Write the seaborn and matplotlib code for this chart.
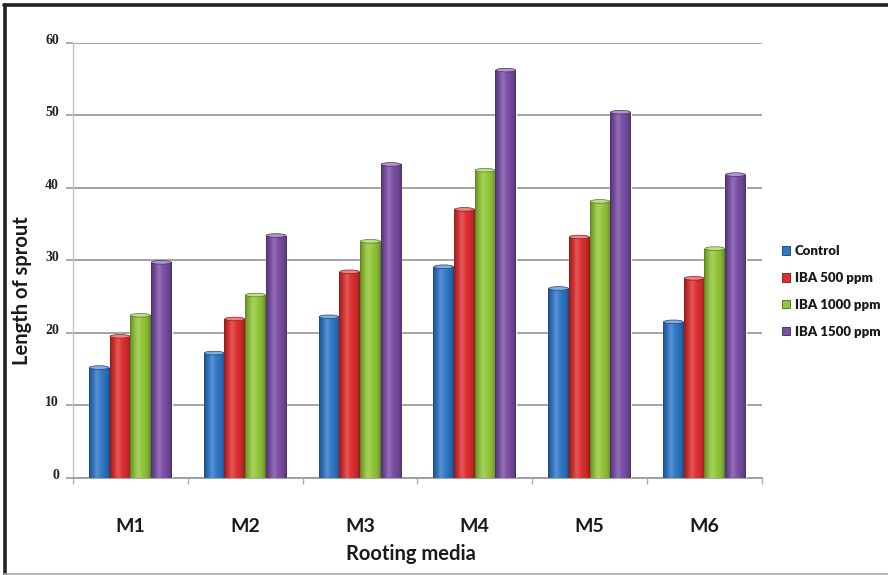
import numpy as np
import pandas as pd
import matplotlib
matplotlib.use("Agg")
import matplotlib.pyplot as plt
import matplotlib.colors as mcolors
import matplotlib.transforms as mtransforms
from matplotlib.patches import Ellipse, Patch
from matplotlib.lines import Line2D
from matplotlib.ticker import FixedLocator
import seaborn as sns

# Rooting media and treatments
media = ["M1", "M2", "M3", "M4", "M5", "M6"]
treatments = ["Control", "IBA 500 ppm", "IBA 1000 ppm", "IBA 1500 ppm"]

# Length of sprout per treatment, one value per rooting medium
control = [15.2, 17.2, 22.2, 29.1, 26.1, 21.5]
iba_500 = [19.5, 21.9, 28.4, 37.0, 33.2, 27.5]
iba_1000 = [22.4, 25.2, 32.6, 42.4, 38.1, 31.6]
iba_1500 = [29.7, 33.4, 43.2, 56.2, 50.4, 41.8]

y_ticks = [0, 10, 20, 30, 40, 50, 60]

palette = ["#2f78c8", "#de2f30", "#93c83a", "#7a4ea6"]

series = [control, iba_500, iba_1000, iba_1500]
df = pd.DataFrame({
    "media": [m for _ in treatments for m in media],
    "treatment": [t for t in treatments for _ in media],
    "length": [v for s in series for v in s],
})

sns.set_theme(style="white")
plt.rcParams["font.family"] = ["Lato", "DejaVu Sans"]

fig = plt.figure(figsize=(8.88, 5.75), dpi=100)
ax = fig.add_axes([0.082, 0.169, 0.776, 0.757])

sns.barplot(data=df, x="media", y="length", hue="treatment",
            order=media, hue_order=treatments, palette=palette,
            saturation=1, width=0.72, gap=0, ax=ax, legend=False,
            errorbar=None, zorder=3)

ax.set_ylim(0, 60)
ax.set_xlim(-0.5, len(media) - 0.5)


def shade_bars(ax):
    """Give each bar a cylindrical gradient and a lighter top cap."""
    t = np.linspace(0, 1, 80)
    shade = 0.55 + 0.45 * np.sin(np.pi * t) ** 0.45
    gloss = 0.18 * np.exp(-((t - 0.38) / 0.14) ** 2)
    for bar in list(ax.patches):
        x0, y0 = bar.get_x(), bar.get_y()
        w, h = bar.get_width(), bar.get_height()
        if h <= 0:
            continue
        base = np.array(mcolors.to_rgb(bar.get_facecolor()))
        rgb = base[None, :] * shade[:, None]
        rgb = rgb + (1 - rgb) * gloss[:, None]
        img = np.clip(rgb, 0, 1)[None, :, :]
        im = ax.imshow(img, extent=(x0, x0 + w, y0, y0 + h), aspect="auto",
                       interpolation="bilinear", zorder=3.1)
        im.set_clip_path(bar)
        cap_col = base + (1 - base) * 0.4
        cap = Ellipse((x0 + w / 2, y0 + h), w * 0.96, 0.5,
                      facecolor=cap_col, edgecolor=base * 0.6,
                      linewidth=0.5, zorder=3.2)
        ax.add_patch(cap)


shade_bars(ax)
ax.set_ylim(0, 60)
ax.set_xlim(-0.5, len(media) - 0.5)

# Grid and axes
grid_col = "#9c9c9c"
ax.set_yticks(y_ticks)
ax.yaxis.grid(True, color=grid_col, linewidth=1.3, zorder=0)
ax.xaxis.grid(False)
ax.set_axisbelow(True)
for side in ["top", "right"]:
    ax.spines[side].set_visible(False)
ax.spines["left"].set_color("#c4c4c4")
ax.spines["left"].set_linewidth(1.0)
ax.spines["bottom"].set_color(grid_col)
ax.spines["bottom"].set_linewidth(1.3)

ax.tick_params(axis="y", which="major", length=5, width=1.2, color=grid_col,
               pad=5, direction="out", left=True)
ax.tick_params(axis="x", which="major", length=0, pad=29)
ax.xaxis.set_minor_locator(FixedLocator(np.arange(-0.5, len(media), 1.0)))
ax.tick_params(axis="x", which="minor", length=4, width=1.0, color="#b0b0b0",
               direction="out", bottom=True)

raise_labels = mtransforms.ScaledTranslation(0, 4 / 100, fig.dpi_scale_trans)
for lab in ax.get_yticklabels():
    lab.set_family(["Liberation Serif", "DejaVu Serif"])
    lab.set_fontweight("bold")
    lab.set_fontsize(10)
    lab.set_color("#222222")
    lab.set_transform(lab.get_transform() + raise_labels)
for lab in ax.get_xticklabels():
    lab.set_fontweight("bold")
    lab.set_fontsize(14)
    lab.set_color("#1a1a1a")

ax.set_xlabel("Rooting media", fontsize=14.5, fontweight="bold", color="#1a1a1a")
ax.set_ylabel("Length of sprout", fontsize=14.5, fontweight="bold", color="#1a1a1a")
ax.xaxis.set_label_coords(0.49, -0.176)
ax.xaxis.label.set_va("center")
ax.yaxis.set_label_coords(-0.074, 0.43)
ax.yaxis.label.set_va("center")
ax.yaxis.label.set_ha("center")

# Legend with small square keys
handles = [Patch(facecolor=c, edgecolor=tuple(np.array(mcolors.to_rgb(c)) * 0.5),
                 linewidth=0.6) for c in palette]
leg = fig.legend(handles, treatments, loc="center left",
                 bbox_to_anchor=(0.881, 1 - 291.5 / 575), frameon=False,
                 handlelength=0.6, handleheight=0.6, handletextpad=0.35,
                 labelspacing=1.12, borderaxespad=0, borderpad=0,
                 prop={"family": ["Lato", "DejaVu Sans"],
                       "weight": "heavy", "size": 9.5})
for txt in leg.get_texts():
    txt.set_color("#1a1a1a")

# Frame around the figure
fig.add_artist(Line2D([0.004, 1.0], [1 - 4.5 / 575, 1 - 4.5 / 575],
                      transform=fig.transFigure, color="#222222", linewidth=2.6))
fig.add_artist(Line2D([4.5 / 888, 4.5 / 888], [0, 1 - 4.5 / 575],
                      transform=fig.transFigure, color="#222222", linewidth=2.6))
fig.add_artist(Line2D([0.004, 1.0], [0.8 / 575, 0.8 / 575],
                      transform=fig.transFigure, color="#aaaaaa", linewidth=1.2))

fig.savefig("out.png", dpi=100, facecolor="white")
